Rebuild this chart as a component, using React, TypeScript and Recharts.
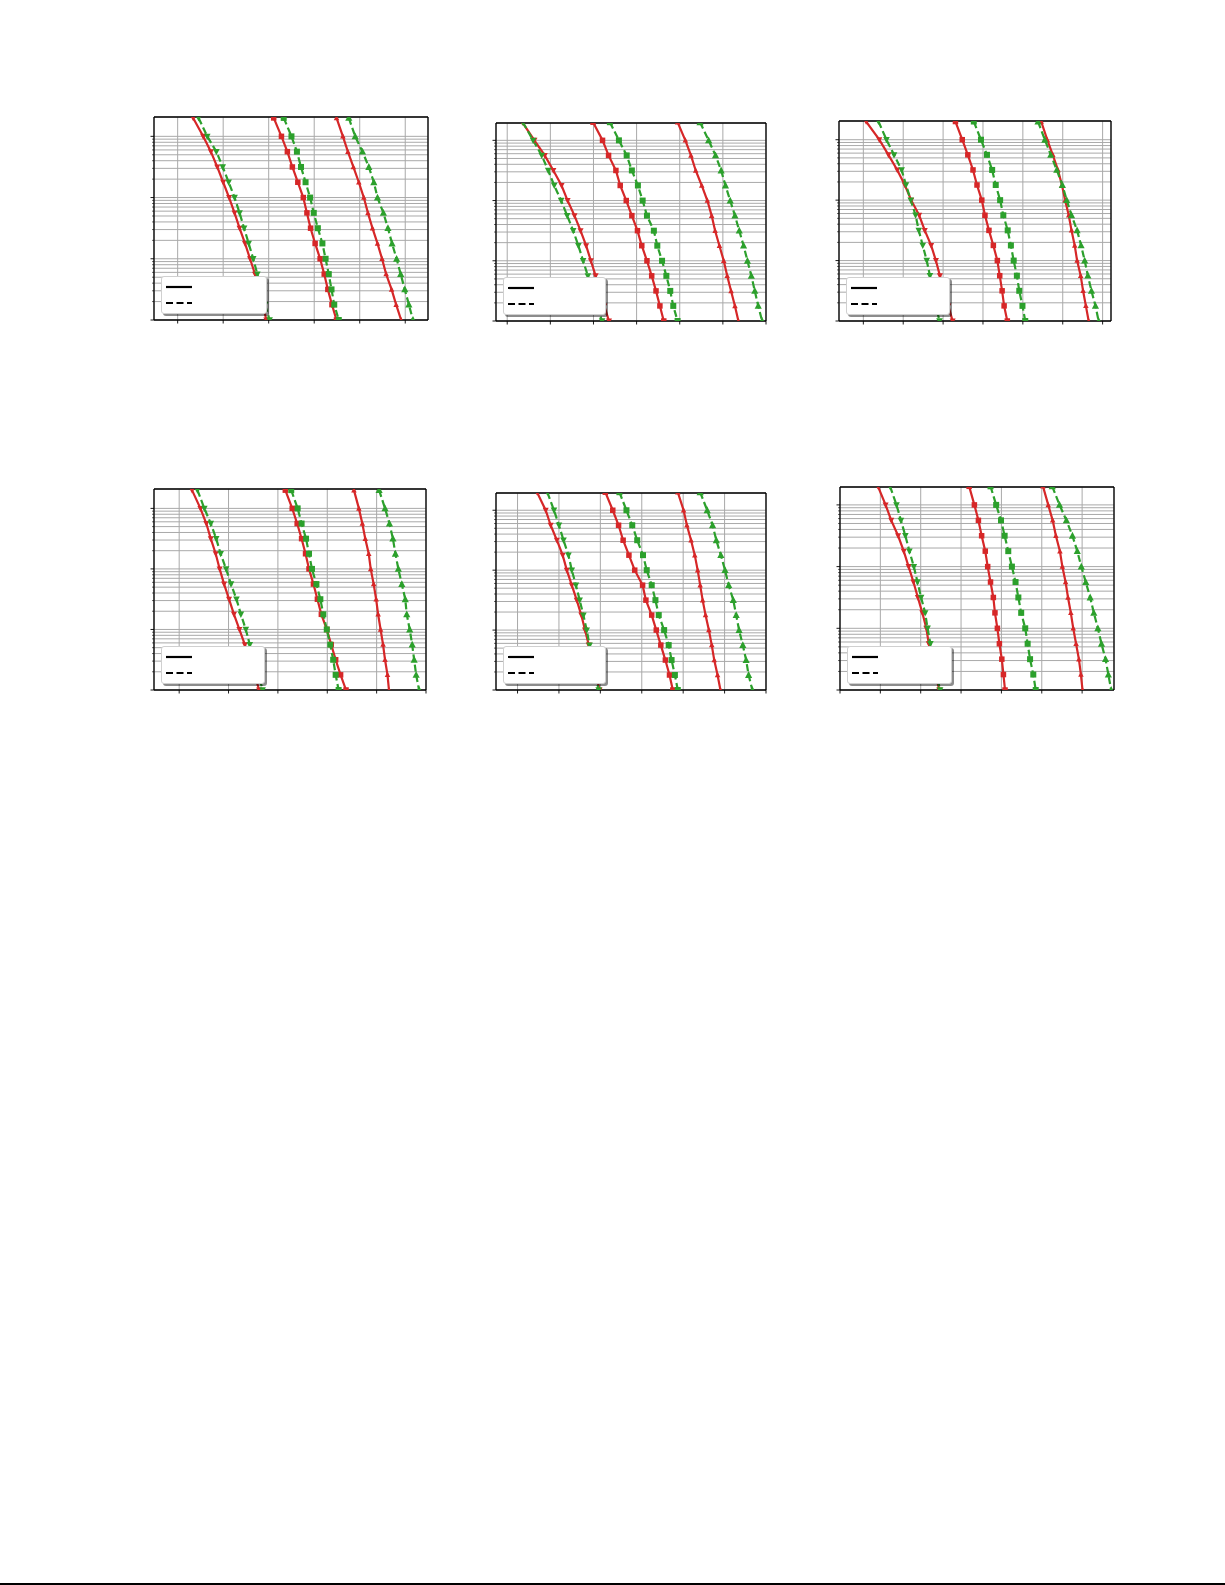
import React from "react";
import {
  LineChart, Line, XAxis, YAxis, CartesianGrid, ReferenceLine, Legend,
} from "recharts";

const RED = "#d62728";
const GREEN = "#2ca02c";

// y levels shared by every curve (log axis)
const Y_LEVELS = [2000, 1000, 562, 316, 178, 100, 56.2, 31.6, 17.8, 10, 5.62, 3.16, 1.78, 1];

// grid / tick positions on the log axis
const Y_TICKS = [
  1, 2, 3, 4, 5, 6, 7, 8, 9,
  10, 20, 30, 40, 50, 60, 70, 80, 90,
  100, 200, 300, 400, 500, 600, 700, 800, 900,
  1000,
];
const Y_MAJOR = [1, 10, 100, 1000];

// x of each curve at the y levels, in x-tick units
// order: red v, green v, red square, green square, red ^, green ^
const P1 = [
  [0.34, 0.56, 0.73, 0.87, 1.0, 1.13, 1.25, 1.36, 1.48, 1.59, 1.7, 1.79, 1.87, 1.95],
  [0.46, 0.65, 0.85, 0.99, 1.12, 1.25, 1.36, 1.46, 1.56, 1.66, 1.75, 1.84, 1.92, 2.02],
  [2.11, 2.28, 2.41, 2.52, 2.64, 2.76, 2.84, 2.92, 3.02, 3.13, 3.22, 3.3, 3.39, 3.49],
  [2.33, 2.5, 2.62, 2.71, 2.81, 2.91, 2.99, 3.08, 3.18, 3.25, 3.32, 3.38, 3.44, 3.54],
  [3.49, 3.63, 3.74, 3.86, 3.98, 4.09, 4.18, 4.28, 4.39, 4.49, 4.58, 4.7, 4.8, 4.91],
  [3.76, 3.9, 4.06, 4.2, 4.31, 4.39, 4.52, 4.62, 4.71, 4.81, 4.9, 4.99, 5.08, 5.17],
];
const P2 = [
  [0.35, 0.63, 0.87, 1.07, 1.26, 1.4, 1.56, 1.7, 1.83, 1.94, 2.05, 2.15, 2.25, 2.36],
  [0.36, 0.6, 0.8, 0.95, 1.09, 1.25, 1.39, 1.53, 1.65, 1.76, 1.87, 1.97, 2.08, 2.2],
  [1.99, 2.21, 2.35, 2.52, 2.62, 2.76, 2.89, 3.02, 3.12, 3.24, 3.35, 3.45, 3.54, 3.63],
  [2.38, 2.59, 2.77, 2.89, 3.03, 3.14, 3.24, 3.4, 3.48, 3.59, 3.69, 3.78, 3.85, 3.95],
  [3.95, 4.13, 4.26, 4.37, 4.51, 4.64, 4.74, 4.82, 4.92, 5.02, 5.1, 5.19, 5.28, 5.36],
  [4.47, 4.67, 4.83, 4.96, 5.06, 5.17, 5.28, 5.38, 5.48, 5.57, 5.66, 5.74, 5.82, 5.91],
];
const P3 = [
  [0.07, 0.4, 0.63, 0.85, 1.04, 1.2, 1.4, 1.54, 1.7, 1.82, 1.92, 2.03, 2.13, 2.24],
  [0.38, 0.58, 0.77, 0.96, 1.07, 1.19, 1.31, 1.39, 1.49, 1.59, 1.67, 1.75, 1.82, 1.91],
  [2.31, 2.48, 2.62, 2.75, 2.85, 2.97, 3.05, 3.15, 3.26, 3.36, 3.42, 3.48, 3.53, 3.61],
  [2.77, 2.95, 3.1, 3.23, 3.32, 3.43, 3.51, 3.62, 3.7, 3.77, 3.85, 3.91, 3.99, 4.06],
  [4.46, 4.61, 4.75, 4.88, 4.98, 5.06, 5.15, 5.22, 5.3, 5.36, 5.45, 5.51, 5.58, 5.65],
  [4.38, 4.55, 4.7, 4.85, 4.99, 5.1, 5.22, 5.36, 5.46, 5.55, 5.63, 5.72, 5.82, 5.9],
];
const P4 = [
  [0.26, 0.43, 0.55, 0.64, 0.74, 0.82, 0.91, 1.01, 1.11, 1.22, 1.33, 1.43, 1.53, 1.62],
  [0.37, 0.51, 0.64, 0.75, 0.84, 0.95, 1.05, 1.16, 1.25, 1.35, 1.43, 1.52, 1.61, 1.69],
  [2.15, 2.29, 2.39, 2.48, 2.56, 2.63, 2.72, 2.8, 2.88, 2.99, 3.08, 3.17, 3.27, 3.38],
  [2.27, 2.4, 2.48, 2.57, 2.63, 2.69, 2.78, 2.86, 2.92, 2.99, 3.06, 3.12, 3.17, 3.23],
  [3.54, 3.64, 3.71, 3.77, 3.84, 3.88, 3.94, 3.99, 4.03, 4.08, 4.13, 4.17, 4.22, 4.25],
  [4.05, 4.17, 4.26, 4.33, 4.38, 4.44, 4.51, 4.58, 4.61, 4.67, 4.72, 4.76, 4.8, 4.86],
];
const P5 = [
  [0.47, 0.68, 0.8, 0.95, 1.09, 1.19, 1.31, 1.43, 1.54, 1.63, 1.72, 1.81, 1.9, 1.98],
  [0.72, 0.88, 1.0, 1.11, 1.23, 1.31, 1.41, 1.5, 1.59, 1.67, 1.74, 1.81, 1.88, 1.96],
  [2.12, 2.3, 2.44, 2.55, 2.69, 2.83, 3.02, 3.1, 3.24, 3.35, 3.46, 3.57, 3.67, 3.75],
  [2.46, 2.63, 2.77, 2.89, 3.03, 3.12, 3.24, 3.33, 3.41, 3.54, 3.65, 3.72, 3.8, 3.87],
  [3.87, 4.01, 4.09, 4.19, 4.28, 4.35, 4.41, 4.47, 4.54, 4.62, 4.69, 4.75, 4.83, 4.9],
  [4.41, 4.58, 4.71, 4.8, 4.91, 5.01, 5.1, 5.21, 5.28, 5.35, 5.44, 5.52, 5.58, 5.67],
];
const P6 = [
  [0.94, 1.13, 1.27, 1.44, 1.58, 1.7, 1.82, 1.93, 2.04, 2.14, 2.2, 2.29, 2.37, 2.46],
  [1.24, 1.4, 1.51, 1.62, 1.72, 1.83, 1.92, 2.01, 2.11, 2.17, 2.24, 2.32, 2.39, 2.48],
  [3.2, 3.33, 3.43, 3.51, 3.6, 3.66, 3.73, 3.8, 3.84, 3.9, 3.95, 4.01, 4.05, 4.09],
  [3.73, 3.87, 3.99, 4.08, 4.17, 4.26, 4.35, 4.42, 4.49, 4.59, 4.65, 4.71, 4.79, 4.85],
  [5.03, 5.16, 5.27, 5.35, 5.45, 5.51, 5.59, 5.65, 5.72, 5.78, 5.85, 5.92, 5.97, 6.01],
  [5.26, 5.44, 5.61, 5.76, 5.88, 5.98, 6.09, 6.2, 6.29, 6.39, 6.48, 6.58, 6.65, 6.72],
];

const X_TICKS_5 = [0, 1, 2, 3, 4, 5];
const X_TICKS_6 = [0, 1, 2, 3, 4, 5, 6];

const SERIES = [
  { color: RED, dashed: false, marker: "v", size: 5.5 },
  { color: GREEN, dashed: true, marker: "v", size: 6 },
  { color: RED, dashed: false, marker: "s", size: 5.5 },
  { color: GREEN, dashed: true, marker: "s", size: 6 },
  { color: RED, dashed: false, marker: "^", size: 5 },
  { color: GREEN, dashed: true, marker: "^", size: 6.5 },
];

// plot-area placement on the page
const PANELS = [
  { left: 154, top: 117, w: 274, h: 203, xDomain: [-0.52, 5.5], xTicks: X_TICKS_5, yMax: 2070, curves: P1, legendW: 106 },
  { left: 496, top: 123, w: 270, h: 198, xDomain: [-0.26, 6.0], xTicks: X_TICKS_6, yMax: 1940, curves: P2, legendW: 103 },
  { left: 839, top: 121, w: 272, h: 200, xDomain: [-0.61, 6.21], xTicks: X_TICKS_6, yMax: 2040, curves: P3, legendW: 104 },
  { left: 154, top: 489, w: 272, h: 201, xDomain: [-0.51, 5.0], xTicks: X_TICKS_5, yMax: 2090, curves: P4, legendW: 104 },
  { left: 496, top: 493, w: 270, h: 197, xDomain: [-0.52, 6.0], xTicks: X_TICKS_6, yMax: 1940, curves: P5, legendW: 103 },
  { left: 840, top: 487, w: 274, h: 203, xDomain: [0, 6.79], xTicks: X_TICKS_6, yMax: 1950, curves: P6, legendW: 105 },
];

const ML = 8; // y axis width
const MT = 4;
const MB = 8; // x axis height
const MR = 4;

const Marker = ({ cx, cy, shape, color, size }) => {
  if (cx == null || cy == null) return null;
  const s = size;
  if (shape === "s") {
    return <rect x={cx - s / 2} y={cy - s / 2} width={s} height={s} fill={color} />;
  }
  if (shape === "^") {
    return (
      <polygon
        points={`${cx},${cy - s * 0.6} ${cx - s * 0.55},${cy + s * 0.45} ${cx + s * 0.55},${cy + s * 0.45}`}
        fill={color}
      />
    );
  }
  return (
    <polygon
      points={`${cx},${cy + s * 0.6} ${cx - s * 0.55},${cy - s * 0.45} ${cx + s * 0.55},${cy - s * 0.45}`}
      fill={color}
    />
  );
};

const LegendBox = () => (
  <div
    style={{
      width: "100%",
      height: "100%",
      boxSizing: "border-box",
      background: "#fff",
      border: "1px solid #d0d0d0",
      borderRadius: 3,
      boxShadow: "2px 2px 0 rgba(0,0,0,0.45)",
      position: "relative",
    }}
  >
    <svg width="40" height="36" style={{ position: "absolute", left: 0, top: 0 }}>
      <line x1={4} x2={30} y1={10} y2={10} stroke="#000" strokeWidth={2.2} />
      <line x1={4} x2={30} y1={26} y2={26} stroke="#000" strokeWidth={2.2} strokeDasharray="7 3.5" />
    </svg>
  </div>
);

const Panel = ({ p }) => {
  const chartW = p.w + ML + MR;
  const chartH = p.h + MT + MB;
  const plotBottom = MT + p.h;

  const xTick = ({ x }) => (
    <line x1={x} x2={x} y1={plotBottom} y2={plotBottom + 3.5} stroke="#000" strokeWidth={0.9} />
  );
  const yTick = ({ y, payload }) => {
    const major = Y_MAJOR.includes(payload.value);
    return (
      <line
        x1={ML - (major ? 3.5 : 2)}
        x2={ML}
        y1={y}
        y2={y}
        stroke="#000"
        strokeWidth={major ? 0.9 : 0.6}
      />
    );
  };

  return (
    <div style={{ position: "absolute", left: p.left - ML, top: p.top - MT }}>
      <LineChart width={chartW} height={chartH} margin={{ top: MT, right: MR, left: 0, bottom: 0 }}>
        <CartesianGrid stroke="#a9a9a9" strokeWidth={1} />
        <XAxis
          type="number"
          dataKey="x"
          domain={p.xDomain}
          ticks={p.xTicks}
          interval={0}
          allowDataOverflow
          height={MB}
          axisLine={{ stroke: "#000", strokeWidth: 1.3 }}
          tickLine={false}
          tick={xTick}
        />
        <YAxis
          type="number"
          scale="log"
          domain={[1, p.yMax]}
          ticks={Y_TICKS}
          interval={0}
          allowDataOverflow
          width={ML}
          axisLine={{ stroke: "#000", strokeWidth: 1.3 }}
          tickLine={false}
          tick={yTick}
        />
        <ReferenceLine y={p.yMax} stroke="#000" strokeWidth={1.3} />
        <ReferenceLine x={p.xDomain[1]} stroke="#000" strokeWidth={1.3} />
        {p.curves.map((xs, i) => {
          const st = SERIES[i];
          const data = Y_LEVELS.map((y, k) => ({ x: xs[k], y }));
          return (
            <Line
              key={i}
              data={data}
              dataKey="y"
              type="linear"
              stroke={st.color}
              strokeWidth={2.2}
              strokeDasharray={st.dashed ? "7 3.5" : undefined}
              dot={(d) => (
                <Marker key={`m${i}-${d.index}`} cx={d.cx} cy={d.cy} shape={st.marker} color={st.color} size={st.size} />
              )}
              activeDot={false}
              legendType="none"
              isAnimationActive={false}
            />
          );
        })}
        <Legend
          layout="horizontal"
          verticalAlign="middle"
          align="center"
          width={p.legendW}
          height={38}
          wrapperStyle={{ left: ML + 7, top: plotBottom - 44, width: p.legendW, height: 38 }}
          content={() => <LegendBox />}
        />
      </LineChart>
    </div>
  );
}

export default function App() {
  return (
    <div style={{ position: "absolute", left: 0, top: 0, width: 1225, height: 1585, background: "#fff", overflow: "hidden" }}>
      {PANELS.map((p, i) => (
        <Panel key={i} p={p} />
      ))}
      <div style={{ position: "absolute", left: 0, top: 1583, width: 1225, height: 1.5, background: "#000" }} />
    </div>
  );
}
